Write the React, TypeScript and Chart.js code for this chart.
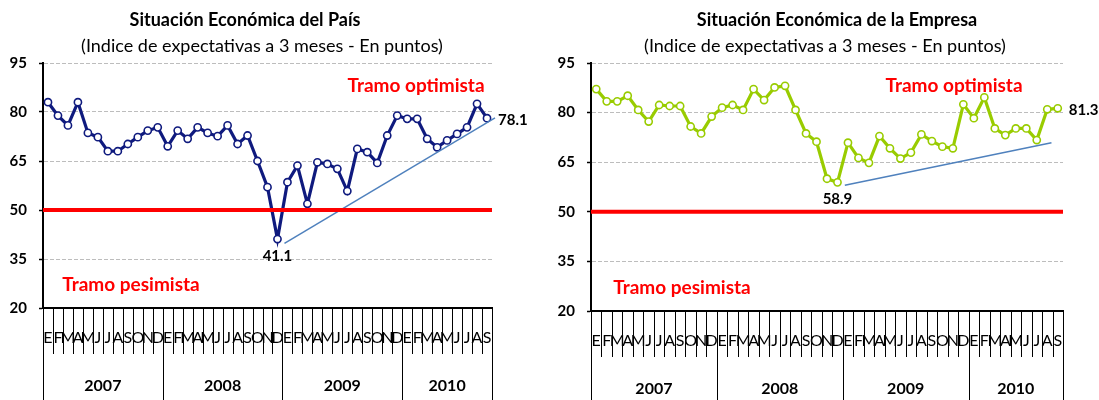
import React, { useEffect, useRef } from 'react';
import { Chart, registerables } from 'chart.js';

Chart.register(...registerables);

// ---------- data ----------
const monthInitials = ['E', 'F', 'M', 'A', 'M', 'J', 'J', 'A', 'S', 'O', 'N', 'D'];
const years = ['2007', '2008', '2009', '2010'];
const monthsPerYear = [12, 12, 12, 9];
const yTicks = [20, 35, 50, 65, 80, 95];
const thresholdValue = 50;

const paisValues = [
  83.0, 78.9, 75.9, 83.0, 73.6, 72.3, 68.0, 68.0, 70.2, 72.3, 74.3, 75.3,
  69.5, 74.3, 71.8, 75.3, 73.6, 72.6, 75.9, 70.2, 72.8, 65.0, 57.0, 41.1,
  58.5, 63.6, 51.9, 64.6, 64.1, 62.6, 55.8, 68.7, 67.7, 64.4, 72.8, 78.9,
  77.9, 77.9, 71.8, 69.2, 71.3, 73.3, 75.3, 82.5, 78.1,
];
const empresaValues = [
  87.1, 83.4, 83.4, 85.1, 80.8, 77.3, 82.3, 82.0, 82.0, 75.8, 73.7, 78.8,
  81.5, 82.3, 80.8, 87.1, 83.8, 87.6, 88.1, 80.8, 73.7, 71.2, 60.0, 58.9,
  70.9, 66.3, 64.8, 72.9, 69.2, 66.1, 67.9, 73.4, 71.4, 69.7, 69.2, 82.5,
  78.3, 84.6, 75.2, 73.2, 75.2, 75.2, 71.7, 81.0, 81.3,
];
const paisTrendX = [23.7, 44.8];
const paisTrendY = [39.8, 78.2];
const empresaTrendX = [23.7, 43.4];
const empresaTrendY = [58.0, 70.9];

const paisTitle = 'Situación Económica del País';
const empresaTitle = 'Situación Económica de la Empresa';
const subtitleText = '(Indice de expectativas a 3 meses - En puntos)';
const optimistaText = 'Tramo optimista';
const pesimistaText = 'Tramo pesimista';

const monthLabels = years.flatMap((_, i) => monthInitials.slice(0, monthsPerYear[i]));

const FONT = 'Lato, "Open Sans", sans-serif';

type Spec = {
  values: number[];
  color: string;
  trendX: number[];
  trendY: number[];
  title: string;
  titleX: number;
  subX: number;
  optX: number;
  optY: number;
  pesX: number;
  pesY: number;
  axisWidth: number;
  pad: { top: number; right: number; bottom: number };
};

function buildChart(canvas: HTMLCanvasElement, s: Spec) {
  const n = s.values.length;
  const minIdx = s.values.indexOf(Math.min(...s.values));
  const lastIdx = n - 1;

  const decor = {
    id: 'decor',
    afterDraw(chart: any) {
      const { ctx, chartArea } = chart;
      const xs = chart.scales.x;
      const ys = chart.scales.y;
      const bottom = chartArea.bottom;
      const H = chart.height;
      ctx.save();

      const yearStarts: number[] = [0];
      monthsPerYear.forEach((c, i) => yearStarts.push(yearStarts[i] + c));

      // separators
      ctx.strokeStyle = '#000';
      ctx.lineWidth = 1;
      for (let k = 0; k <= n; k++) {
        const px = Math.round(xs.getPixelForValue(k - 0.5)) + 0.5;
        const isYear = yearStarts.includes(k);
        ctx.beginPath();
        ctx.moveTo(px, bottom);
        ctx.lineTo(px, isYear ? H : bottom + 46);
        ctx.stroke();
      }

      // bottom axis line
      ctx.lineWidth = 2;
      ctx.beginPath();
      ctx.moveTo(chartArea.left - 1, bottom);
      ctx.lineTo(chartArea.right + 1, bottom);
      ctx.stroke();

      // month letters
      ctx.fillStyle = '#000';
      ctx.textAlign = 'center';
      ctx.textBaseline = 'middle';
      ctx.font = `16px ${FONT}`;
      for (let i = 0; i < n; i++) {
        ctx.fillText(monthLabels[i], xs.getPixelForValue(i), bottom + 30);
      }
      // year labels
      ctx.font = `bold 16px ${FONT}`;
      years.forEach((y, i) => {
        const a = xs.getPixelForValue(yearStarts[i] - 0.5);
        const b = xs.getPixelForValue(yearStarts[i + 1] - 0.5);
        ctx.fillText(y, (a + b) / 2, bottom + 78);
      });

      // titles
      ctx.font = `bold 18px ${FONT}`;
      ctx.fillText(s.title, s.titleX, 20);
      ctx.font = `18px ${FONT}`;
      ctx.fillText(subtitleText, s.subX, 46);

      // zones
      ctx.fillStyle = '#ff0000';
      ctx.font = `bold 19px ${FONT}`;
      ctx.fillText(optimistaText, s.optX, s.optY);
      ctx.fillText(pesimistaText, s.pesX, s.pesY);

      // value labels
      ctx.fillStyle = '#000';
      ctx.font = `bold 15px ${FONT}`;
      const mx = xs.getPixelForValue(minIdx);
      const my = ys.getPixelForValue(s.values[minIdx]);
      ctx.textAlign = 'center';
      ctx.fillText(s.values[minIdx].toFixed(1), mx, my + 17);
      const lx = xs.getPixelForValue(lastIdx);
      const ly = ys.getPixelForValue(s.values[lastIdx]);
      ctx.textAlign = 'left';
      ctx.fillText(s.values[lastIdx].toFixed(1), lx + 11, ly + 2);

      ctx.restore();
    },
  };

  return new Chart(canvas, {
    type: 'line',
    data: {
      datasets: [
        {
          data: [
            { x: -0.5, y: thresholdValue },
            { x: n - 0.5, y: thresholdValue },
          ],
          borderColor: '#ff0000',
          borderWidth: 4,
          pointRadius: 0,
          order: 0,
        },
        {
          data: s.trendX.map((x, i) => ({ x, y: s.trendY[i] })),
          borderColor: '#4f81bd',
          borderWidth: 1.5,
          pointRadius: 0,
          order: 1,
          clip: false,
        },
        {
          data: s.values.map((v, i) => ({ x: i, y: v })),
          borderColor: s.color,
          borderWidth: 3.2,
          pointRadius: 3.6,
          pointBackgroundColor: '#ffffff',
          pointBorderColor: s.color,
          pointBorderWidth: 1.6,
          order: 2,
        },
      ],
    } as any,
    options: {
      responsive: false,
      animation: false,
      layout: { padding: { left: 0, top: s.pad.top, right: s.pad.right, bottom: s.pad.bottom } },
      plugins: {
        legend: { display: false },
        tooltip: { enabled: false },
        title: { display: false },
      },
      scales: {
        x: { type: 'linear', min: -0.5, max: n - 0.5, display: false },
        y: {
          min: 20,
          max: 95,
          afterBuildTicks: (sc: any) => {
            sc.ticks = yTicks.map((v) => ({ value: v }));
          },
          afterFit: (sc: any) => {
            sc.width = s.axisWidth;
          },
          ticks: {
            font: { family: FONT, size: 15, weight: 'bold' },
            color: '#000',
            padding: 12,
          },
          grid: {
            color: (c: any) => (c.tick && c.tick.value === 20 ? 'rgba(0,0,0,0)' : '#bdbdbd'),
            lineWidth: 1,
            tickLength: 4,
            tickColor: '#000',
            tickWidth: 1.5,
          },
          border: { display: true, color: '#000', width: 2, dash: [4, 2] },
        },
      },
    } as any,
    plugins: [decor],
  });
}

export default function App() {
  const leftRef = useRef<HTMLCanvasElement | null>(null);
  const rightRef = useRef<HTMLCanvasElement | null>(null);

  useEffect(() => {
    const c1 = buildChart(leftRef.current!, {
      values: paisValues,
      color: '#0f1a7e',
      trendX: paisTrendX,
      trendY: paisTrendY,
      title: paisTitle,
      titleX: 245,
      subX: 262,
      optX: 416,
      optY: 86,
      pesX: 131,
      pesY: 285,
      axisWidth: 43,
      pad: { top: 63, right: 57, bottom: 92 },
    });
    const c2 = buildChart(rightRef.current!, {
      values: empresaValues,
      color: '#99cc00',
      trendX: empresaTrendX,
      trendY: empresaTrendY,
      title: empresaTitle,
      titleX: 288,
      subX: 276,
      optX: 405,
      optY: 86,
      pesX: 133,
      pesY: 288,
      axisWidth: 42,
      pad: { top: 63, right: 36, bottom: 89 },
    });
    return () => {
      c1.destroy();
      c2.destroy();
    };
  }, []);

  return (
    <div style={{ position: 'absolute', left: 0, top: 0, width: 1099, height: 400, background: '#fff' }}>
      <canvas ref={leftRef} width={549} height={400} style={{ position: 'absolute', left: 0, top: 0 }} />
      <canvas ref={rightRef} width={550} height={400} style={{ position: 'absolute', left: 549, top: 0 }} />
    </div>
  );
}
